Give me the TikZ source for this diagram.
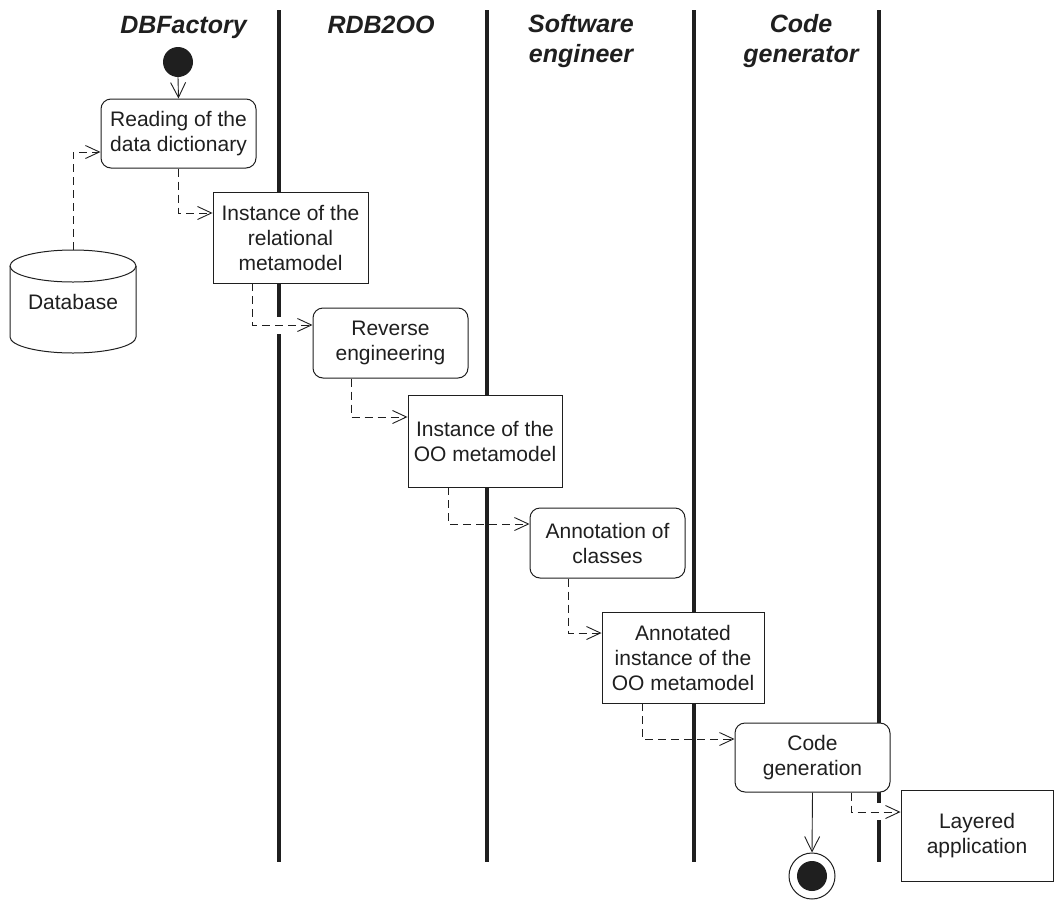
\documentclass[tikz,border=0pt]{standalone}
\usepackage{fontspec}
\setmainfont{Liberation Sans}
\usetikzlibrary{arrows.meta}
\begin{document}
\begin{tikzpicture}[x=1pt,y=-1pt,
  lane/.style={line width=3.4pt, black!88},
  act/.style={draw=black!88, fill=white, line width=1pt, rounded corners=10pt, align=center,
    font=\fontsize{21}{25}\selectfont, text=black!88, inner sep=0pt},
  obj/.style={draw=black!88, fill=white, line width=0.9pt, align=center,
    font=\fontsize{21}{25}\selectfont, text=black!88, inner sep=0pt},
  dep/.style={draw=black!88, line width=0.9pt, dash pattern=on 8pt off 5pt,
    -{Straight Barb[length=14pt,width=13pt,line width=0.9pt]}},
  flow/.style={draw=black!88, line width=0.9pt,
    -{Straight Barb[length=15pt,width=15pt,line width=0.9pt]}},
  hdr/.style={font=\fontsize{25}{30}\selectfont\bfseries\itshape, text=black!88, align=center, inner sep=0pt}
]
\useasboundingbox (0,0) rectangle (1055,900);

% swimlane separators
\draw[lane] (279,10) -- (279,317);
\draw[lane] (279,334) -- (279,862);
\draw[lane] (487,10) -- (487,862);
\draw[lane] (694,10) -- (694,862);
\draw[lane] (879,10) -- (879,803);
\draw[lane] (879,820) -- (879,862);

% headers
\node[hdr, anchor=base] (h1) at (183.5,33) {DBFactory};
\node[hdr, anchor=base] (h2) at (381,33) {RDB2OO};
\node[hdr, anchor=north] (h3) at (581,14) {Software\\engineer};
\node[hdr, anchor=north] (h4) at (801,14) {Code\\generator};

% start / end
\node[circle, fill=black!88, minimum size=30pt, inner sep=0pt] (start) at (178,62) {};
\node[circle, draw=black!88, line width=1pt, minimum size=46pt, inner sep=0pt] (end) at (812,876) {};
\node[circle, fill=black!88, minimum size=30pt, inner sep=0pt] (endin) at (812,876) {};

% activities and objects
\node[act, minimum width=155pt, minimum height=69pt] (read) at (178.5,133.5) {Reading of the\\data dictionary};
\node[obj, minimum width=155pt, minimum height=91pt] (inst1) at (290.5,237.5) {Instance of the\\relational\\metamodel};
\node[act, minimum width=155pt, minimum height=70pt] (rev) at (390.5,343) {Reverse\\engineering};
\node[obj, minimum width=154pt, minimum height=92pt] (inst2) at (485,441) {Instance of the\\OO metamodel};
\node[act, minimum width=155pt, minimum height=70pt] (annot) at (607.5,543) {Annotation of\\classes};
\node[obj, minimum width=162pt, minimum height=91pt] (annotd) at (683,657.5) {Annotated\\instance of the\\OO metamodel};
\node[act, minimum width=155pt, minimum height=69pt] (codegen) at (812.5,757.5) {Code\\generation};
\node[obj, minimum width=152pt, minimum height=91pt] (layered) at (977,835.5) {Layered\\application};

% database cylinder
\node[minimum width=126pt, minimum height=103pt, inner sep=0pt, font=\fontsize{21}{25}\selectfont, text=black!88] (db) at (73,301.5) {Database};
\draw[black!88, line width=1pt] (73,266) ellipse[x radius=63pt, y radius=16pt];
\draw[black!88, line width=1pt] (10,266) -- (10,337) arc[start angle=180, end angle=360, x radius=63pt, y radius=16pt] -- (136,266);

% connectors
\draw[flow] (start.south) -- (read.north);
\draw[dep] (db.north) |- ([yshift=-18.5pt]read.west);
\draw[dep] (read.south) |- ([yshift=24.5pt]inst1.west);
\draw[dep] ([xshift=-38.5pt]inst1.south) |- ([yshift=18pt]rev.west);
\draw[dep] ([xshift=-39.5pt]rev.south) |- ([yshift=24pt]inst2.west);
\draw[dep] ([xshift=-37pt]inst2.south) |- ([yshift=19pt]annot.west);
\draw[dep] ([xshift=-39.5pt]annot.south) |- ([yshift=24.5pt]annotd.west);
\draw[dep] ([xshift=-41pt]annotd.south) |- ([yshift=18.5pt]codegen.west);
\draw[dep] ([xshift=38.5pt]codegen.south) |- ([yshift=23.5pt]layered.west);
\draw[flow] (codegen.south) -- (end.north);
\end{tikzpicture}
\end{document}
